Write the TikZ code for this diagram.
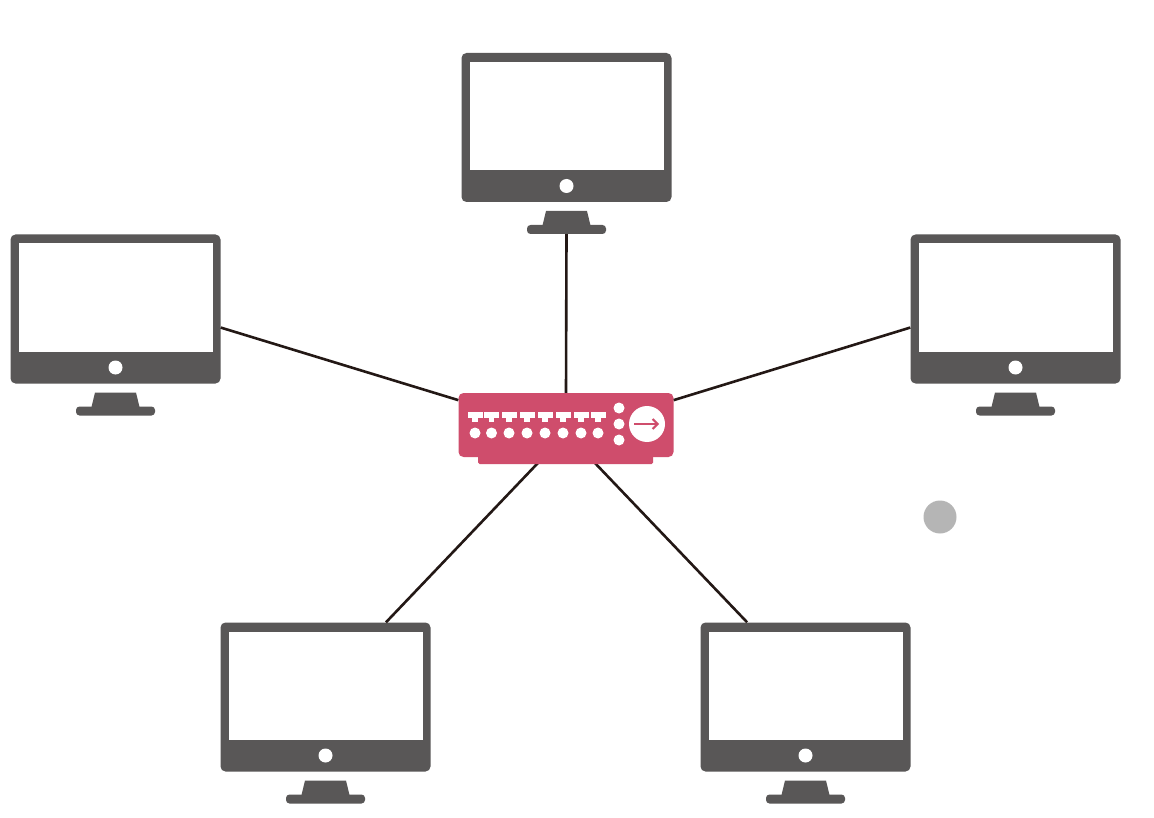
\documentclass[tikz,border=0pt]{standalone}
\usepackage{xcolor}
\usepackage{tikz}
\usetikzlibrary{arrows.meta}

\definecolor{monitorgray}{HTML}{595757}
\definecolor{hubred}{HTML}{CF4D6C}
\definecolor{linkblack}{HTML}{231815}
\definecolor{dotgray}{HTML}{B5B5B5}

\tikzset{
  monitorbody/.style={fill=monitorgray,rounded corners=5pt,minimum width=210pt,minimum height=149pt,inner sep=0pt},
  monitorfoot/.style={fill=monitorgray,rounded corners=3.5pt,minimum width=79pt,minimum height=9pt,inner sep=0pt},
  hubbody/.style={fill=hubred,rounded corners=5pt,minimum width=215pt,minimum height=64pt,inner sep=0pt},
  hubtab/.style={fill=hubred,rounded corners=1.5pt,minimum width=175pt,minimum height=14pt,inner sep=0pt},
  link/.style={linkblack,line width=2.6pt},
}

\newcommand{\monitor}[3]{
  \node[monitorbody] (#1) at (#2,#3) {};
  \node[monitorfoot] (#1foot) at (#2,#3+102) {};
  \begin{scope}[shift={(#2,#3)}]
    \fill[white] (-97,-65.5) rectangle (97,42.5);
    \fill[white] (0,58.5) circle (7);
    \fill[monitorgray] (-20.5,83.5) -- (20.5,83.5) -- (24,98) -- (-24,98) -- cycle;
  \end{scope}
}

\begin{document}
\begin{tikzpicture}[x=1pt,y=-1pt]
  \useasboundingbox[fill=white] (0,0) rectangle (1154,818);

  % computers
  \monitor{mTop}{566.5}{127.5}
  \monitor{mLeft}{115.5}{309}
  \monitor{mRight}{1015.5}{309}
  \monitor{mBotLeft}{325.5}{697}
  \monitor{mBotRight}{805.5}{697}

  \node[hubbody] (hub) at (566,425) {};

  % cables
  \draw[link] (hub.north) -- (mTopfoot.south);
  \draw[link] (hub.167) -- (mLeft.-10.3);
  \draw[link] (hub.13) -- (mRight.190.3);
  \draw[link] (hub.-125) -- (mBotLeft.51.6);
  \draw[link] (hub.-54.5) -- (mBotRight.128.9);

  \node[hubtab] (hubBase) at (565.5,457) {};

  % ports
  \foreach \px in {475,491.5,509,527,545,563,581,598}{
    \fill[white] (\px-7.5,412) rectangle (\px+7.5,417.5);
    \fill[white] (\px-2.8,417) rectangle (\px+2.8,422);
    \fill[white] (\px,433) circle (5.5);
  }
  \foreach \py in {408,424,440}
    \fill[white] (619,\py) circle (5.5);

  \fill[white] (647,424) circle (18);
  \draw[hubred,line width=2pt,-{Straight Barb[length=5pt,width=10pt]}] (634,424) -- (659,424);

  \fill[dotgray] (940,517) circle (16.5);
\end{tikzpicture}
\end{document}
